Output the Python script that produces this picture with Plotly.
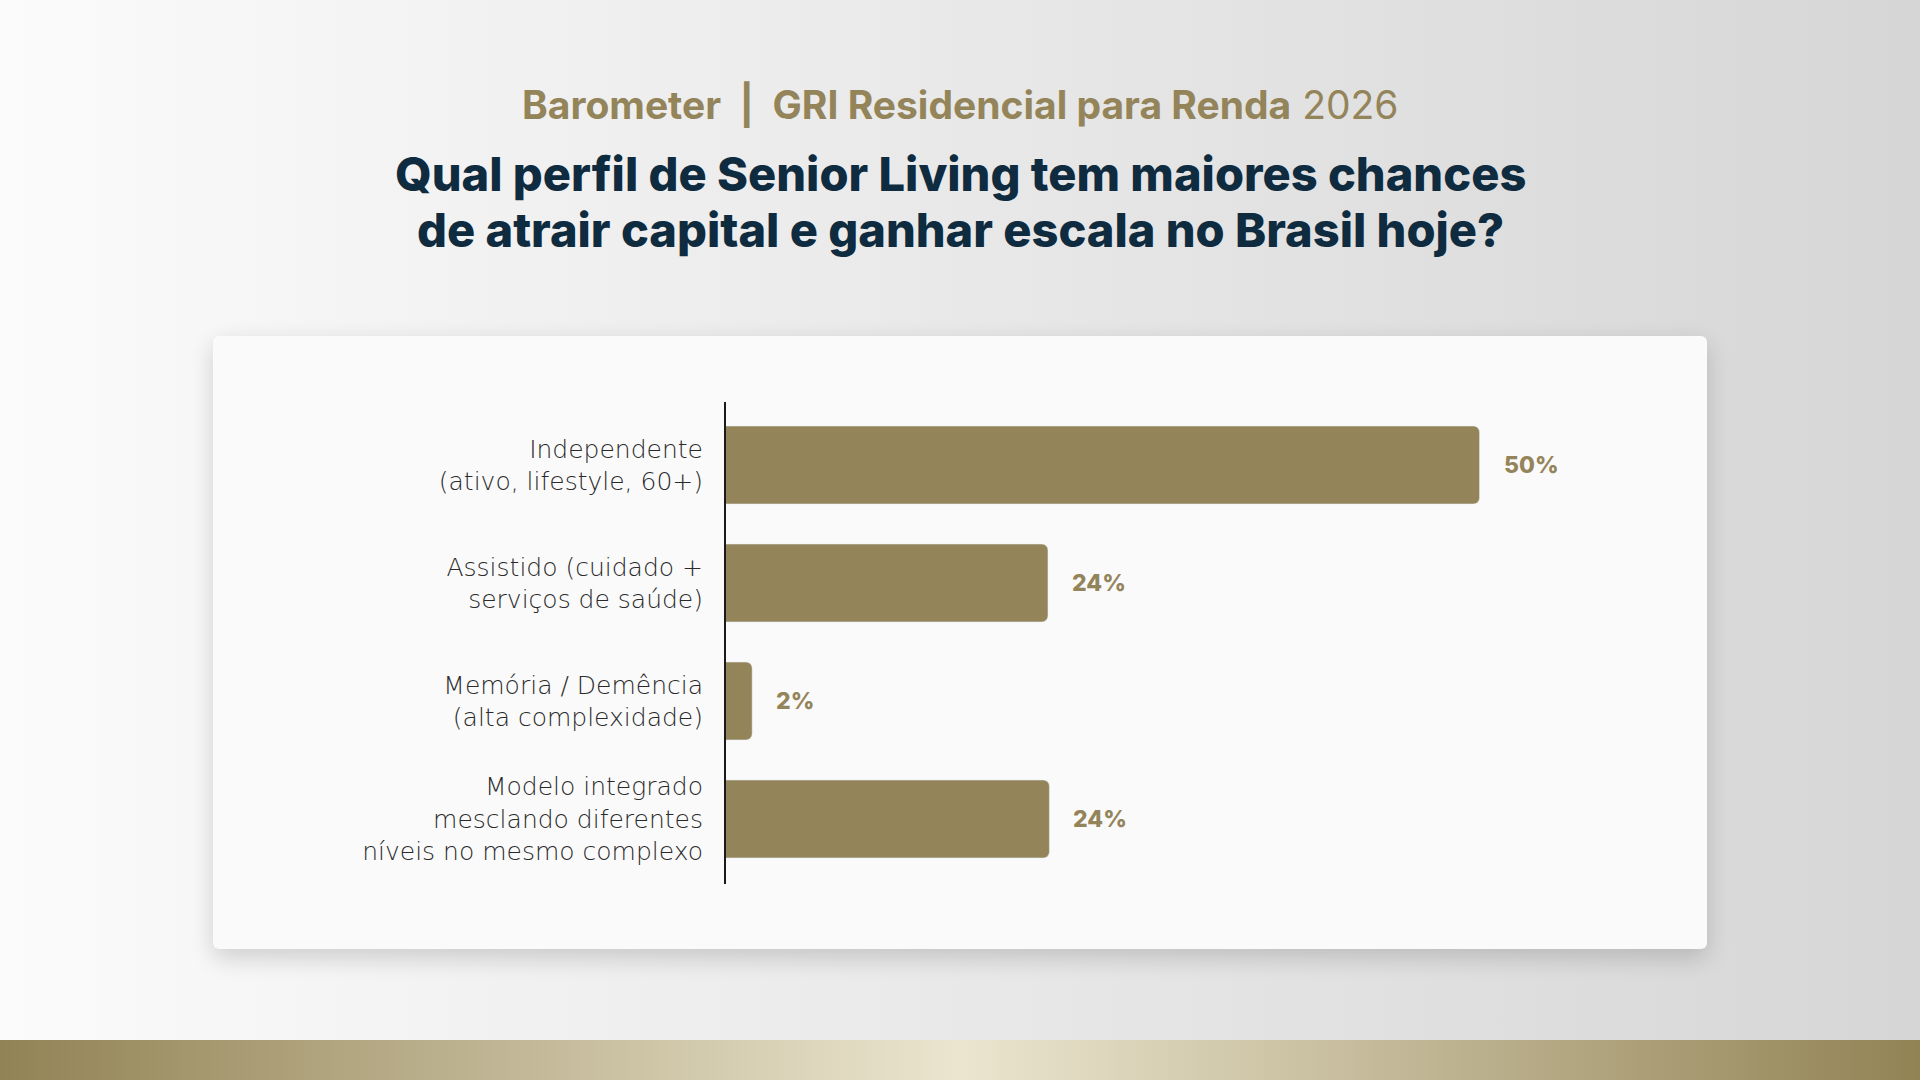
import base64
import plotly.graph_objects as go

# dados
categorias = [
    "Independente<br>(ativo, lifestyle, 60+)",
    "Assistido (cuidado +<br>serviços de saúde)",
    "Memória / Demência<br>(alta complexidade)",
    "Modelo integrado<br>mesclando diferentes<br>níveis no mesmo complexo",
]
comprimentos = [52.8, 22.6, 1.9, 22.7]   # comprimento das barras como aparece na imagem
rotulos = ["50%", "24%", "2%", "24%"]    # rótulos impressos ao lado das barras

titulo = [
    "Qual perfil de Senior Living tem maiores chances",
    "de atrair capital e ganhar escala no Brasil hoje?",
]

OURO = "#94845A"
AZUL = "#0F2B40"
W, H = 1920, 1080

# fundo: degradê, cartão com sombra e faixa dourada
svg = f"""<svg xmlns="http://www.w3.org/2000/svg" width="{W}" height="{H}">
<defs>
<linearGradient id="bg" x1="0" x2="1" y1="0" y2="0">
<stop offset="0" stop-color="#FBFBFB"/><stop offset="1" stop-color="#D6D6D6"/></linearGradient>
<linearGradient id="band" x1="0" x2="1" y1="0" y2="0">
<stop offset="0" stop-color="#928355"/><stop offset="0.5" stop-color="#EBE5CF"/>
<stop offset="1" stop-color="#928355"/></linearGradient>
<filter id="sh" x="-10%" y="-10%" width="120%" height="130%"><feGaussianBlur stdDeviation="12"/></filter>
</defs>
<rect width="{W}" height="{H}" fill="url(#bg)"/>
<rect x="213" y="344" width="1494" height="614" rx="8" fill="#000" opacity="0.16" filter="url(#sh)"/>
<rect x="213" y="336" width="1494" height="613" rx="6" fill="#FAFAFA"/>
<rect x="0" y="1040" width="{W}" height="40" fill="url(#band)"/>
</svg>"""
fundo = "data:image/svg+xml;base64," + base64.b64encode(svg.encode()).decode()

fig = go.Figure()
fig.add_trace(go.Bar(
    x=comprimentos, y=categorias, orientation="h",
    marker=dict(color=OURO, cornerradius=6),
    hoverinfo="skip",
))

for v, c, r in zip(comprimentos, categorias, rotulos):
    fig.add_annotation(
        x=v, y=c, text=r, showarrow=False, xanchor="left", xshift=22,
        font=dict(family="Inter, sans-serif", size=23, color=OURO, weight=800),
    )

fig.add_annotation(
    xref="paper", yref="paper", x=0.5, y=1 - 104 / H, yanchor="middle", showarrow=False,
    text="<b>Barometer\u00a0\u00a0|\u00a0\u00a0GRI Residencial para Renda</b> 2026",
    font=dict(family="Inter, sans-serif", size=39, color=OURO),
)
for i, linha in enumerate(titulo):
    fig.add_annotation(
        xref="paper", yref="paper", x=0.5, y=1 - (173 + 56 * i) / H, yanchor="middle",
        showarrow=False, text=linha,
        font=dict(family="Inter, sans-serif", size=47, color=AZUL, weight=800),
    )

# linha vertical do eixo (um pouco mais longa que a área das barras)
fig.add_shape(type="line", xref="paper", yref="paper",
              x0=725 / W, x1=725 / W, y0=1 - 884 / H, y1=1 - 402 / H,
              line=dict(color="#1A1A1A", width=2))

fig.update_layout(
    width=W, height=H,
    margin=dict(l=0, r=0, t=0, b=0),
    paper_bgcolor="#F0F0F0",
    plot_bgcolor="rgba(0,0,0,0)",
    showlegend=False,
    bargap=0.34,
    images=[dict(source=fundo, xref="paper", yref="paper", x=0, y=1,
                 sizex=1, sizey=1, sizing="stretch", layer="below")],
    xaxis=dict(domain=[725 / W, 1611 / W], range=[0, 62], visible=False),
    yaxis=dict(
        domain=[1 - 878 / H, 1 - 406 / H], autorange="reversed",
        showline=False, ticks="",
        showgrid=False, zeroline=False, ticklabelstandoff=21,
        tickfont=dict(family="DejaVu Sans, sans-serif", size=25, color="#2A2A2A", weight=200),
    ),
)

fig.write_html("out.html", config={"displayModeBar": False},
               post_script="document.body.style.margin='0';")
